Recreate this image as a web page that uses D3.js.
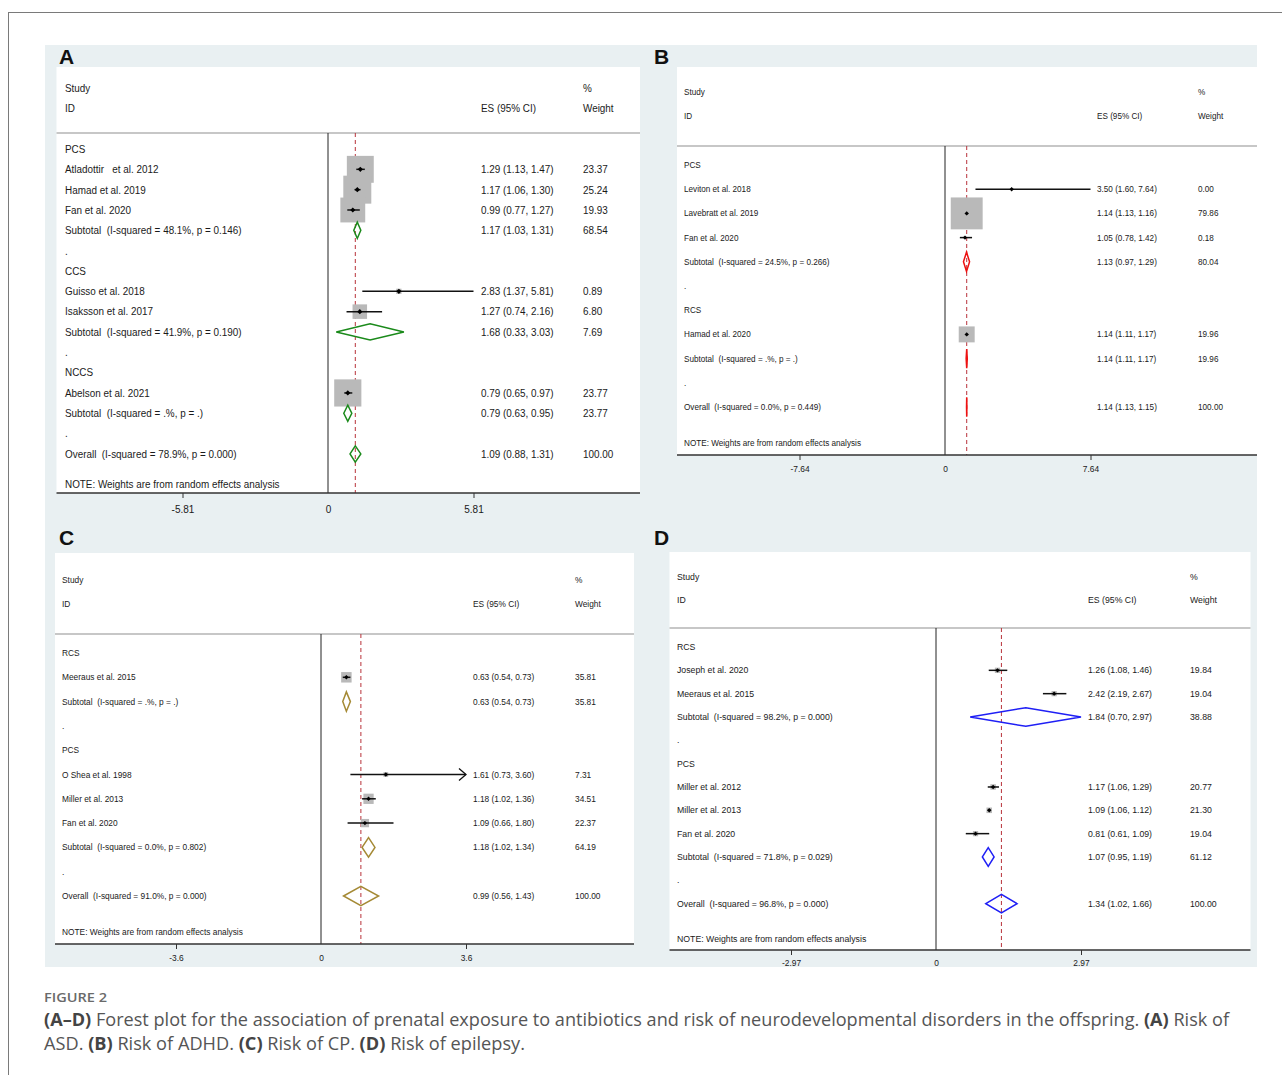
<!DOCTYPE html>
<html>
<head>
<meta charset="utf-8">
<script src="https://cdn.jsdelivr.net/npm/d3@7"></script>
<style>
  body { margin: 0; background: #fff; }
  svg text { white-space: pre; }
</style>
</head>
<body>
<div id="chart"></div>
<script>
// ---- data: panel A (ASD) ----
const aLabels = ["PCS", "Atladottir   et al. 2012", "Hamad et al. 2019", "Fan et al. 2020",
  "Subtotal  (I-squared = 48.1%, p = 0.146)", ".", "CCS", "Guisso et al. 2018", "Isaksson et al. 2017",
  "Subtotal  (I-squared = 41.9%, p = 0.190)", ".", "NCCS", "Abelson et al. 2021",
  "Subtotal  (I-squared = .%, p = .)", ".", "Overall  (I-squared = 78.9%, p = 0.000)"];
const aES = [null, 1.29, 1.17, 0.99, 1.17, null, null, 2.83, 1.27, 1.68, null, null, 0.79, 0.79, null, 1.09];
const aLo = [null, 1.13, 1.06, 0.77, 1.03, null, null, 1.37, 0.74, 0.33, null, null, 0.65, 0.63, null, 0.88];
const aHi = [null, 1.47, 1.30, 1.27, 1.31, null, null, 5.81, 2.16, 3.03, null, null, 0.97, 0.95, null, 1.31];
const aWeight = [null, 23.37, 25.24, 19.93, 68.54, null, null, 0.89, 6.80, 7.69, null, null, 23.77, 23.77, null, 100.00];
const aTicks = [-5.81, 0, 5.81];

// ---- data: panel B (ADHD) ----
const bLabels = ["PCS", "Leviton et al. 2018", "Lavebratt et al. 2019", "Fan et al. 2020",
  "Subtotal  (I-squared = 24.5%, p = 0.266)", ".", "RCS", "Hamad et al. 2020",
  "Subtotal  (I-squared = .%, p = .)", ".", "Overall  (I-squared = 0.0%, p = 0.449)"];
const bES = [null, 3.50, 1.14, 1.05, 1.13, null, null, 1.14, 1.14, null, 1.14];
const bLo = [null, 1.60, 1.13, 0.78, 0.97, null, null, 1.11, 1.11, null, 1.13];
const bHi = [null, 7.64, 1.16, 1.42, 1.29, null, null, 1.17, 1.17, null, 1.15];
const bWeight = [null, 0.00, 79.86, 0.18, 80.04, null, null, 19.96, 19.96, null, 100.00];
const bTicks = [-7.64, 0, 7.64];

// ---- data: panel C (CP) ----
const cLabels = ["RCS", "Meeraus et al. 2015", "Subtotal  (I-squared = .%, p = .)", ".", "PCS",
  "O Shea et al. 1998", "Miller et al. 2013", "Fan et al. 2020",
  "Subtotal  (I-squared = 0.0%, p = 0.802)", ".", "Overall  (I-squared = 91.0%, p = 0.000)"];
const cES = [null, 0.63, 0.63, null, null, 1.61, 1.18, 1.09, 1.18, null, 0.99];
const cLo = [null, 0.54, 0.54, null, null, 0.73, 1.02, 0.66, 1.02, null, 0.56];
const cHi = [null, 0.73, 0.73, null, null, 3.60, 1.36, 1.80, 1.34, null, 1.43];
const cWeight = [null, 35.81, 35.81, null, null, 7.31, 34.51, 22.37, 64.19, null, 100.00];
const cTicks = [-3.6, 0, 3.6];
const cArrows = ["O Shea et al. 1998"];

// ---- data: panel D (epilepsy) ----
const dLabels = ["RCS", "Joseph et al. 2020", "Meeraus et al. 2015",
  "Subtotal  (I-squared = 98.2%, p = 0.000)", ".", "PCS", "Miller et al. 2012", "Miller et al. 2013",
  "Fan et al. 2020", "Subtotal  (I-squared = 71.8%, p = 0.029)", ".",
  "Overall  (I-squared = 96.8%, p = 0.000)"];
const dES = [null, 1.26, 2.42, 1.84, null, null, 1.17, 1.09, 0.81, 1.07, null, 1.34];
const dLo = [null, 1.08, 2.19, 0.70, null, null, 1.06, 1.06, 0.61, 0.95, null, 1.02];
const dHi = [null, 1.46, 2.67, 2.97, null, null, 1.29, 1.12, 1.09, 1.19, null, 1.66];
const dWeight = [null, 19.84, 19.04, 38.88, null, null, 20.77, 21.30, 19.04, 61.12, null, 100.00];
const dTicks = [-2.97, 0, 2.97];

const noteText = "NOTE: Weights are from random effects analysis";
const plotFont = "Liberation Sans, Arial, sans-serif";

const width = 1282, height = 1075;
const svg = d3.select("#chart").append("svg")
  .attr("width", width)
  .attr("height", height);

// card frame + light background
svg.append("rect")
  .attr("x", 8.5).attr("y", 12.5).attr("width", 1400).attr("height", 1200)
  .attr("fill", "none").attr("stroke", "#7a7a7a").attr("stroke-width", 1);
svg.append("rect")
  .attr("x", 45).attr("y", 45).attr("width", 1212).attr("height", 922)
  .attr("fill", "#e9f0f2");

const f2 = d3.format(".2f");

function txt(g, x, y, s, cfg) {
  return g.append("text")
    .attr("transform", `translate(${x},${y}) scale(${cfg.sx},1)`)
    .attr("dy", "0.35em")
    .style("font-family", plotFont)
    .attr("font-size", cfg.fs)
    .attr("fill", "#1a1a1a")
    .text(s);
}

function drawPanel(cfg, labels, es, lo, hi, weight, ticks, arrows) {
  const g = svg.append("g");

  g.append("rect")
    .attr("x", cfg.x0).attr("y", cfg.y0)
    .attr("width", cfg.x1 - cfg.x0).attr("height", cfg.axisY - cfg.y0)
    .attr("fill", "#fff");

  g.append("text")
    .attr("x", cfg.letterX).attr("y", cfg.letterY)
    .style("font-family", plotFont)
    .attr("font-size", 21).attr("font-weight", "bold").attr("fill", "#111")
    .text(cfg.letter);

  const x = d3.scaleLinear()
    .domain([0, d3.max(ticks)])
    .range([cfg.zero, cfg.zero + cfg.span]);
  const y = i => cfg.row0 + i * cfg.rowH;
  const overall = es[es.length - 1];

  // header
  txt(g, cfg.labelX, cfg.studyY, "Study", cfg);
  txt(g, cfg.labelX, cfg.idY, "ID", cfg);
  txt(g, cfg.wX, cfg.studyY, "%", cfg);
  txt(g, cfg.esX, cfg.idY, "ES (95% CI)", cfg);
  txt(g, cfg.wX, cfg.idY, "Weight", cfg);

  g.append("line")
    .attr("x1", cfg.x0).attr("x2", cfg.x1)
    .attr("y1", cfg.lineY).attr("y2", cfg.lineY)
    .attr("stroke", "#b4b4b4").attr("stroke-width", 1.5);

  // no-effect line at 0 and the overall estimate line
  g.append("line")
    .attr("x1", x(0)).attr("x2", x(0))
    .attr("y1", cfg.lineY).attr("y2", cfg.axisY)
    .attr("stroke", "#222").attr("stroke-width", 1);
  g.append("line")
    .attr("x1", x(overall)).attr("x2", x(overall))
    .attr("y1", cfg.lineY).attr("y2", cfg.axisY)
    .attr("stroke", "#b8323a").attr("stroke-width", 1)
    .attr("stroke-dasharray", "4,3");

  const rows = labels.map((l, i) => ({
    label: l, es: es[i], lo: lo[i], hi: hi[i], w: weight[i], i: i,
    pooled: l.startsWith("Subtotal") || l.startsWith("Overall")
  }));
  const studies = rows.filter(r => r.es !== null && !r.pooled);
  const pooled = rows.filter(r => r.pooled);

  // weight boxes
  g.selectAll("rect.box").data(studies).join("rect")
    .attr("class", "box")
    .attr("x", d => x(d.es) - cfg.boxK * Math.sqrt(d.w) / 2)
    .attr("y", d => y(d.i) - cfg.boxK * Math.sqrt(d.w) / 2)
    .attr("width", d => cfg.boxK * Math.sqrt(d.w))
    .attr("height", d => cfg.boxK * Math.sqrt(d.w))
    .attr("fill", "#b9b9b9");

  // CI lines
  g.selectAll("line.ci").data(studies).join("line")
    .attr("class", "ci")
    .attr("x1", d => x(d.lo)).attr("x2", d => x(d.hi))
    .attr("y1", d => y(d.i)).attr("y2", d => y(d.i))
    .attr("stroke", "#111").attr("stroke-width", 1.5);

  // arrow heads for truncated CIs
  studies.filter(d => arrows.includes(d.label)).forEach(d => {
    const ax = x(d.hi), ay = y(d.i);
    g.append("path")
      .attr("d", `M${ax - 7},${ay - 6}L${ax},${ay}L${ax - 7},${ay + 6}`)
      .attr("fill", "none").attr("stroke", "#111").attr("stroke-width", 1.3);
  });

  // point estimates
  const m = cfg.mark;
  g.selectAll("path.pt").data(studies).join("path")
    .attr("class", "pt")
    .attr("d", d => {
      const px = x(d.es), py = y(d.i);
      return `M${px - m},${py}L${px},${py - m}L${px + m},${py}L${px},${py + m}Z`;
    })
    .attr("fill", "#000");

  // pooled diamonds
  const h = cfg.rowH * 0.4;
  g.selectAll("path.dia").data(pooled).join("path")
    .attr("class", "dia")
    .attr("d", d => {
      const py = y(d.i);
      return `M${x(d.lo)},${py}L${x(d.es)},${py - h}L${x(d.hi)},${py}L${x(d.es)},${py + h}Z`;
    })
    .attr("fill", "none")
    .attr("stroke", cfg.color)
    .attr("stroke-width", 1.5);

  // text columns
  rows.forEach(r => {
    txt(g, cfg.labelX, y(r.i), r.label, cfg);
    if (r.es !== null) {
      txt(g, cfg.esX, y(r.i), `${f2(r.es)} (${f2(r.lo)}, ${f2(r.hi)})`, cfg);
      txt(g, cfg.wX, y(r.i), f2(r.w), cfg);
    }
  });
  txt(g, cfg.labelX, y(rows.length - 1) + cfg.rowH * 1.5, noteText, cfg);

  // x axis
  g.append("line")
    .attr("x1", cfg.x0).attr("x2", cfg.x1)
    .attr("y1", cfg.axisY).attr("y2", cfg.axisY)
    .attr("stroke", "#333").attr("stroke-width", 1.6);
  const ax = g.append("g")
    .attr("transform", `translate(0,${cfg.axisY})`)
    .call(d3.axisBottom(x).tickValues(ticks).tickSize(5)
      .tickPadding(cfg.tickPad).tickFormat(d => String(d)));
  ax.select(".domain").remove();
  ax.selectAll(".tick line").attr("stroke", "#333")
    .filter(d => d === 0).remove();
  ax.selectAll(".tick text")
    .style("font-family", plotFont)
    .attr("font-size", cfg.tickFs)
    .attr("fill", "#1a1a1a");
}

drawPanel({
  letter: "A", letterX: 59, letterY: 64,
  x0: 56.5, x1: 640, y0: 67, studyY: 88, idY: 108, lineY: 133,
  row0: 149, rowH: 20.33, axisY: 493, zero: 328, span: 145.5,
  labelX: 65, esX: 481, wX: 583, fs: 11, sx: 0.9, tickFs: 10, tickPad: 8,
  boxK: 5.57, mark: 2.6, color: "#1b8a1b"
}, aLabels, aES, aLo, aHi, aWeight, aTicks, []);

drawPanel({
  letter: "B", letterX: 654, letterY: 64,
  x0: 677, x1: 1257, y0: 67, studyY: 92, idY: 116, lineY: 146,
  row0: 165, rowH: 24.2, axisY: 455, zero: 945, span: 145.5,
  labelX: 684, esX: 1097, wX: 1198, fs: 8.6, sx: 0.95, tickFs: 8.4, tickPad: 6,
  boxK: 3.57, mark: 2.2, color: "#ee1111"
}, bLabels, bES, bLo, bHi, bWeight, bTicks, []);

drawPanel({
  letter: "C", letterX: 59, letterY: 545,
  x0: 55, x1: 634, y0: 553, studyY: 580, idY: 604, lineY: 634,
  row0: 653, rowH: 24.3, axisY: 944, zero: 321, span: 145,
  labelX: 62, esX: 473, wX: 575, fs: 8.6, sx: 0.97, tickFs: 8.4, tickPad: 6,
  boxK: 1.75, mark: 2.2, color: "#a58a35"
}, cLabels, cES, cLo, cHi, cWeight, cTicks, cArrows);

drawPanel({
  letter: "D", letterX: 654, letterY: 545,
  x0: 669.5, x1: 1250.5, y0: 552, studyY: 577, idY: 600, lineY: 628,
  row0: 647, rowH: 23.33, axisY: 950, zero: 936, span: 145,
  labelX: 677, esX: 1088, wX: 1190, fs: 9, sx: 0.97, tickFs: 8.4, tickPad: 5,
  boxK: 1.2, mark: 2.2, color: "#1f1ff5"
}, dLabels, dES, dLo, dHi, dWeight, dTicks, []);

// caption
const capFont = "Open Sans, Noto Sans, sans-serif";
svg.append("text")
  .attr("x", 44).attr("y", 1002)
  .style("font-family", capFont)
  .attr("font-size", 13).attr("font-weight", 600)
  .attr("fill", "#6a6a6a")
  .attr("textLength", 63).attr("lengthAdjust", "spacingAndGlyphs")
  .text("FIGURE 2");

const capLine1 = [["(A–D)", true],
  [" Forest plot for the association of prenatal exposure to antibiotics and risk of neurodevelopmental disorders in the offspring. ", false],
  ["(A)", true], [" Risk of", false]];
const capLine2 = [["ASD. ", false], ["(B)", true], [" Risk of ADHD. ", false], ["(C)", true],
  [" Risk of CP. ", false], ["(D)", true], [" Risk of epilepsy.", false]];

[[capLine1, 1026, 1185], [capLine2, 1050, 481]].forEach(([parts, yy, len]) => {
  const t = svg.append("text")
    .attr("x", 44).attr("y", yy)
    .style("font-family", capFont)
    .attr("font-size", 17.5)
    .attr("fill", "#555")
    .attr("textLength", len)
    .attr("lengthAdjust", "spacingAndGlyphs");
  parts.forEach(([s, b]) => {
    t.append("tspan")
      .attr("font-weight", b ? 700 : 400)
      .attr("fill", b ? "#444" : "#555")
      .text(s);
  });
});
</script>
</body>
</html>
